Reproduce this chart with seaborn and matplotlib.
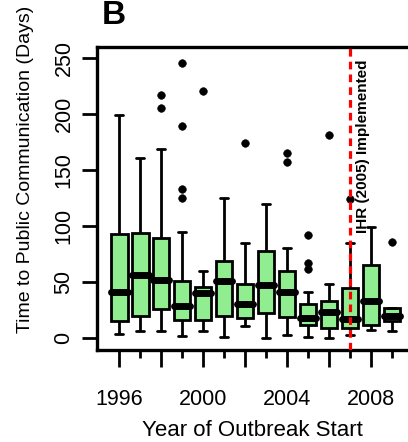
import matplotlib
matplotlib.use("Agg")
import matplotlib.pyplot as plt
import numpy as np
import pandas as pd
import seaborn as sns

# Box summaries (days): lower whisker, Q1, median, Q3, upper whisker
years = [1996, 1997, 1998, 1999, 2000, 2001, 2002, 2003, 2004, 2005, 2006, 2007, 2008, 2009]
whisker_low = [4, 6, 6, 2, 6, 1, 11, 0, 3, 1, 0, 3, 7, 6]
q1 = [15, 20, 26, 16, 16, 20, 18, 22, 19, 12, 9, 9, 12, 15]
median = [41, 56, 52, 29, 40, 51, 30, 47, 41, 18, 23, 17, 33, 20]
q3 = [93, 94, 89, 51, 46, 69, 48, 78, 60, 30, 33, 45, 65, 27]
whisker_high = [199, 161, 169, 95, 60, 125, 85, 120, 80, 41, 48, 85, 99, 27]

# Outlying outbreaks
outlier_years = [1998, 1998, 1999, 1999, 1999, 1999, 2000, 2002, 2004, 2004, 2005, 2005, 2005, 2006, 2007, 2009]
outlier_days = [217, 205, 246, 189, 133, 125, 221, 174, 165, 157, 92, 67, 62, 181, 124, 86]

xtick_pos = [1996, 1998, 2000, 2002, 2004, 2006, 2008]
xtick_labels = ["1996", "", "2000", "", "2004", "", "2008"]
ytick_pos = [0, 50, 100, 150, 200, 250]

sns.set_style("ticks")
plt.rcParams["font.family"] = ["Liberation Sans", "DejaVu Sans"]
plt.rcParams["text.color"] = "black"
plt.rcParams["axes.labelcolor"] = "black"
plt.rcParams["xtick.color"] = "black"
plt.rcParams["ytick.color"] = "black"

# five values per year so the box quartiles land exactly on the read-off summary
rows = []
for i, yr in enumerate(years):
    for v in (whisker_low[i], q1[i], median[i], q3[i], whisker_high[i]):
        rows.append({"year": yr, "days": v})
df = pd.DataFrame(rows)

fig = plt.figure(figsize=(4.08, 4.42), dpi=100)
ax = fig.add_axes([0.237, 0.208, 0.763, 0.686])

sns.boxplot(
    data=df, x="year", y="days", native_scale=True, whis=(0, 100),
    width=0.78, color="#90EE90", saturation=1, linecolor="black", linewidth=2.0,
    medianprops={"linewidth": 5, "solid_capstyle": "round"},
    whiskerprops={"linewidth": 2.0}, capprops={"linewidth": 2.0},
    ax=ax,
)
sns.scatterplot(x=outlier_years, y=outlier_days, color="black", s=30, edgecolor="black", ax=ax, zorder=5)

ax.axvline(2007, color="red", lw=2.3, ls=(0, (2.4, 1.6)), zorder=6)
ax.text(2007.63, 94, "IHR (2005) Implemented", rotation=90, ha="center", va="bottom",
        fontsize=11, fontweight="bold")

ax.set_xlim(1994.92, 2009.76)
ax.set_ylim(-10.7, 260)
ax.set_xticks(xtick_pos)
ax.set_xticklabels(xtick_labels)
ax.set_xticks(years, minor=True)
ax.set_yticks(ytick_pos)
ax.set_yticklabels([str(v) for v in ytick_pos], rotation=90, va="center")
ax.tick_params(axis="x", which="major", length=12, width=2, labelsize=15.5, pad=16)
ax.tick_params(axis="x", which="minor", length=6, width=2)
ax.tick_params(axis="y", length=11, width=2, labelsize=15.5, pad=5)

ax.spines["right"].set_visible(False)
for side in ("top", "left", "bottom"):
    ax.spines[side].set_linewidth(2.4)
    ax.spines[side].set_color("black")

ax.set_xlabel("Year of Outbreak Start", fontsize=16, labelpad=7)
ax.set_ylabel("Time to Public Communication (Days)", fontsize=14)
ax.yaxis.set_label_coords(-0.203, 0.597)
fig.text(0.25, 0.93, "B", fontsize=24, fontweight="bold", ha="left", va="bottom")

fig.savefig("out.png", dpi=100)
